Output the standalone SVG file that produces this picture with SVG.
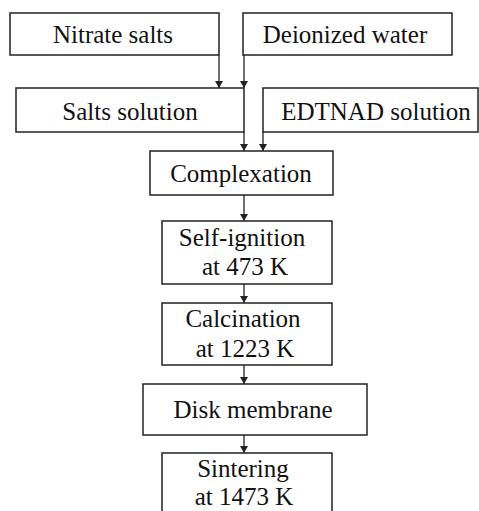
<svg xmlns="http://www.w3.org/2000/svg" width="479" height="511" viewBox="0 0 479 511">
<style>
.box{fill:#fff;stroke:#222;stroke-width:1.5}
.lbl{font-family:"Liberation Serif","DejaVu Serif",serif;font-size:25px;fill:#111;text-anchor:middle}
.con{stroke:#222;stroke-width:1.3;fill:none;marker-end:url(#ah)}
</style>
<defs>
<marker id="ah" markerUnits="userSpaceOnUse" markerWidth="8" markerHeight="9" refX="7" refY="4" orient="auto">
<path d="M0,0 L7,4 L0,8 Z" fill="#222"/>
</marker>
</defs>
<rect width="479" height="511" fill="#fff"/>
<g id="connectors">
<line class="con" x1="219" y1="55" x2="219" y2="88"/>
<line class="con" x1="244" y1="55" x2="244" y2="88"/>
<line class="con" x1="244" y1="132" x2="244" y2="151"/>
<line class="con" x1="263" y1="132" x2="263" y2="151"/>
<line class="con" x1="244" y1="195" x2="244" y2="221"/>
<line class="con" x1="244" y1="284" x2="244" y2="303"/>
<line class="con" x1="244" y1="365" x2="244" y2="384"/>
<line class="con" x1="244" y1="435" x2="244" y2="453"/>
</g>
<g id="nitrate">
<rect class="box" x="10" y="13" width="209" height="42"/>
<text class="lbl" x="113" y="43">Nitrate salts</text>
</g>
<g id="water">
<rect class="box" x="243" y="13" width="209" height="42"/>
<text class="lbl" x="345" y="43">Deionized water</text>
</g>
<g id="salts">
<rect class="box" x="16" y="88" width="228" height="44"/>
<text class="lbl" x="130" y="120">Salts solution</text>
</g>
<g id="edtnad">
<rect class="box" x="263" y="88" width="215" height="44"/>
<text class="lbl" x="376" y="120">EDTNAD solution</text>
</g>
<g id="complexation">
<rect class="box" x="150" y="151" width="183" height="44"/>
<text class="lbl" x="241" y="182">Complexation</text>
</g>
<g id="selfignition">
<rect class="box" x="162" y="221" width="170" height="63"/>
<text class="lbl" x="242" y="246">Self-ignition</text>
<text class="lbl" x="245" y="275">at 473 K</text>
</g>
<g id="calcination">
<rect class="box" x="162" y="303" width="170" height="62"/>
<text class="lbl" x="243" y="327">Calcination</text>
<text class="lbl" x="245" y="357">at 1223 K</text>
</g>
<g id="disk">
<rect class="box" x="143" y="384" width="224" height="51"/>
<text class="lbl" x="253" y="418">Disk membrane</text>
</g>
<g id="sintering">
<rect class="box" x="162" y="453" width="170" height="70"/>
<text class="lbl" x="243" y="477">Sintering</text>
<text class="lbl" x="244" y="505">at 1473 K</text>
</g>
</svg>
